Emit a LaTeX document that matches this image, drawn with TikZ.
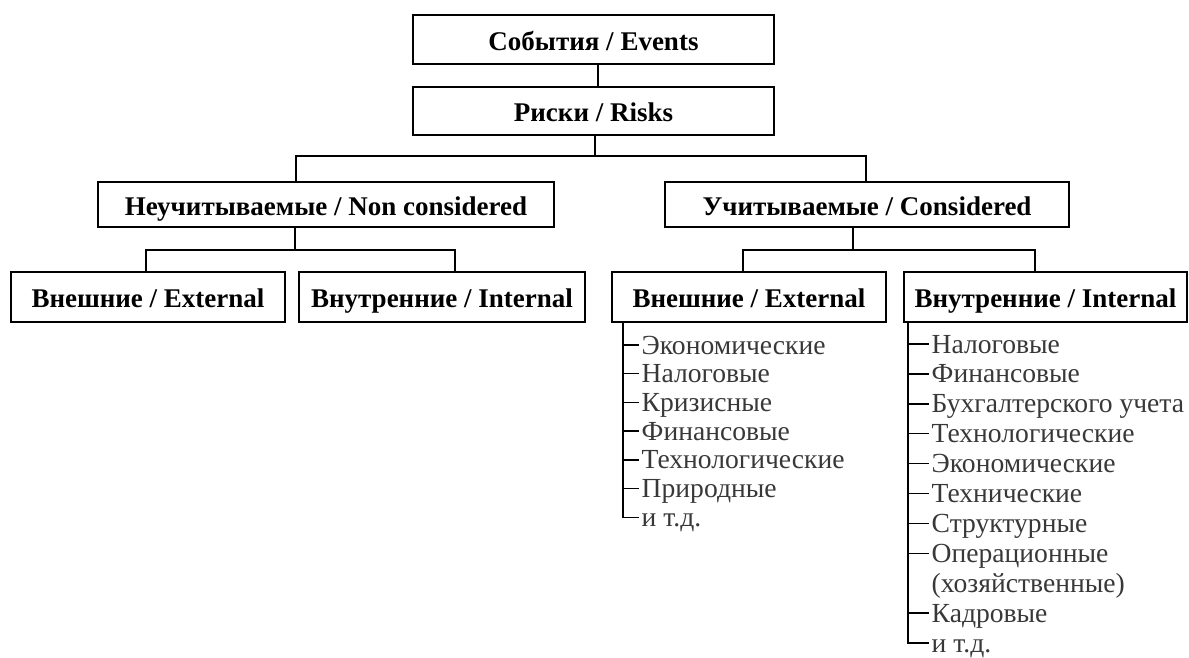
\documentclass[tikz,border=0pt]{standalone}
\usepackage{fontspec}
\setmainfont{Liberation Serif}
\begin{document}
\begin{tikzpicture}[x=1pt,y=-1pt,
  box/.style={draw,line width=1.4pt,inner sep=0pt,text height=21pt,text depth=0pt,font=\bfseries\fontsize{27}{30}\selectfont},
  item/.style={anchor=west,inner xsep=2.5pt,inner ysep=0pt,text height=18pt,text depth=0pt,font=\fontsize{27.6}{30}\selectfont,text=black!78},
  conn/.style={line width=1.4pt}]
\useasboundingbox (0,0) rectangle (1189,657);

% boxes
\node[box,minimum width=361pt,minimum height=49pt] (ev) at (593.5,39.5) {События / Events};
\node[box,minimum width=361pt,minimum height=48pt] (ri) at (593.5,111) {Риски / Risks};
\node[box,minimum width=456pt,minimum height=45pt] (nc) at (326,204.5) {Неучитываемые / Non considered};
\node[box,minimum width=404pt,minimum height=45pt] (cn) at (867,204.5) {Учитываемые / Considered};
\node[box,minimum width=274pt,minimum height=50pt] (e1) at (148,297) {Внешние / External};
\node[box,minimum width=286pt,minimum height=50pt] (i1) at (442,297) {Внутренние / Internal};
\node[box,minimum width=274pt,minimum height=50pt] (e2) at (749,297) {Внешние / External};
\node[box,minimum width=283pt,minimum height=50pt] (i2) at (1045.5,297) {Внутренние / Internal};

% connectors
\coordinate (c0) at (598,0);
\coordinate (c1) at (595,156);
\coordinate (hL) at (296,156);
\coordinate (hR) at (866,156);
\draw[conn] (c0 |- ev.south) -- (c0 |- ri.north);
\draw[conn] (c1 |- ri.south) -- (c1);
\draw[conn] (nc.north -| hL) -- (hL) -- (hR) -- (cn.north -| hR);

\coordinate (a1) at (295,250);
\coordinate (l1) at (146,250);
\coordinate (l2) at (455,250);
\draw[conn] (nc.south -| a1) -- (a1);
\draw[conn] (e1.north -| l1) -- (l1) -- (l2) -- (i1.north -| l2);

\coordinate (a2) at (853,250);
\coordinate (r1) at (743,250);
\coordinate (r2) at (1035,250);
\draw[conn] (cn.south -| a2) -- (a2);
\draw[conn] (e2.north -| r1) -- (r1) -- (r2) -- (i2.north -| r2);

% left list (external, considered)
\node[item] (p0) at (639,345.0) {Экономические};
\node[item] (p1) at (639,373.7) {Налоговые};
\node[item] (p2) at (639,402.4) {Кризисные};
\node[item] (p3) at (639,431.1) {Финансовые};
\node[item] (p4) at (639,459.8) {Технологические};
\node[item] (p5) at (639,488.5) {Природные};
\node[item] (p6) at (639,517.2) {и т.д.};
\coordinate (L) at (623,0);
\draw[conn] (L |- e2.south) -- (L |- p6.west) -- (p6.west);
\foreach \k in {0,...,5} \draw[conn] (L |- p\k.west) -- (p\k.west);

% right list (internal, considered)
\node[item] (q0) at (929,344.0) {Налоговые};
\node[item] (q1) at (929,373.9) {Финансовые};
\node[item] (q2) at (929,403.8) {Бухгалтерского учета};
\node[item] (q3) at (929,433.7) {Технологические};
\node[item] (q4) at (929,463.6) {Экономические};
\node[item] (q5) at (929,493.5) {Технические};
\node[item] (q6) at (929,523.4) {Структурные};
\node[item] (q7) at (929,553.3) {Операционные};
\node[item] (q8) at (929,583.2) {(хозяйственные)};
\node[item] (q9) at (929,613.1) {Кадровые};
\node[item] (q10) at (929,643.0) {и т.д.};
\coordinate (R) at (908,0);
\draw[conn] (R |- i2.south) -- (R |- q10.west) -- (q10.west);
\foreach \k in {0,...,7,9} \draw[conn] (R |- q\k.west) -- (q\k.west);
\end{tikzpicture}
\end{document}
